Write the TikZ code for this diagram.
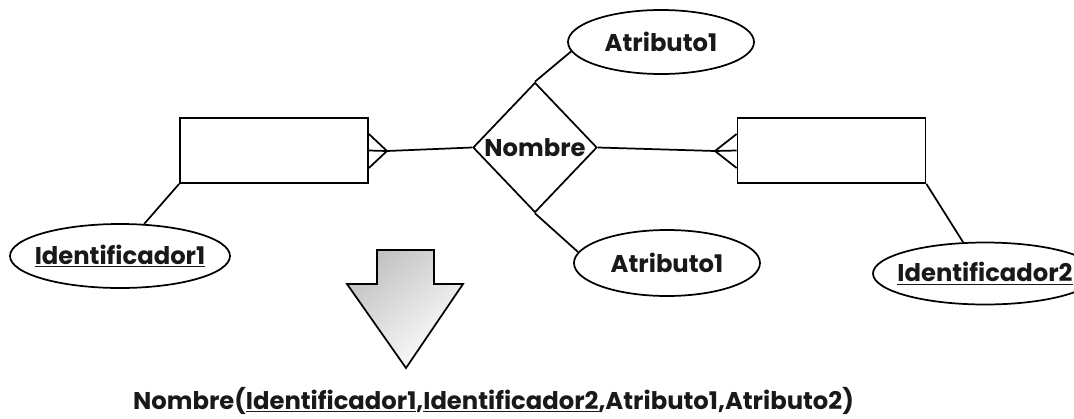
\documentclass[tikz,border=0pt]{standalone}
\usepackage{fontspec}
\setmainfont{Poppins}
\usetikzlibrary{shapes.geometric}
\tikzset{
  lbl/.style={font=\fontsize{18.2}{20}\selectfont\bfseries, text=black!90},
  entity/.style={draw, rectangle, minimum width=141pt, minimum height=48.75pt, inner sep=0pt},
  attr/.style={draw, ellipse, inner sep=0pt, lbl},
  rel/.style={draw, diamond, minimum width=93pt, minimum height=97.5pt, inner sep=0pt, lbl},
}
\begin{document}
\begin{tikzpicture}[x=0.75pt, y=-0.75pt, line width=1.3pt]
\useasboundingbox (0,0) rectangle (1074,418);
\clip (0,0) rectangle (1074,418);
% entities
\node[entity] (e1) at (274,150.5) {};
\node[entity] (e2) at (831.5,150.5) {};
% relationship
\node[rel] (r) at (535,147.5) {Nombre};
% attributes
\node[attr, inner xsep=-4pt, minimum width=139.5pt, minimum height=48pt] (a1) at (661,42) {Atributo1};
\node[attr, inner xsep=-4pt, minimum width=139.5pt, minimum height=49.5pt] (a2) at (667,263) {Atributo1};
\node[attr, inner xsep=-9pt, minimum width=165pt, minimum height=48pt] (i1) at (120,256) {\underline{Identificador1}};
\node[attr, inner xsep=-9pt, minimum width=168pt, minimum height=46.5pt] (i2) at (985,273.5) {\underline{Identificador2}};
% crow's feet tips
\coordinate (t1) at (387,151);
\coordinate (t2) at (715,151);
\draw (r.west) -- (t1);
\draw (t1) -- (e1.east |- 0,134);
\draw (t1) -- (e1.east);
\draw (t1) -- (e1.east |- 0,168);
\draw (r.east) -- (t2);
\draw (t2) -- (e2.west |- 0,134);
\draw (t2) -- (e2.west);
\draw (t2) -- (e2.west |- 0,168);
% attribute links
\draw (r.north) -- (a1.186);
\draw (r.south) -- (a2.173);
\draw (e1.south west) -- (i1.53);
\draw (e2.south east) -- (i2.125);
% arrow
\shade[draw, line width=1.3pt, top color=black!24, bottom color=white, shading angle=40]
  (377,250) -- (434,250) -- (434,284) -- (463,284) -- (406,368) -- (347,284) -- (377,284) -- cycle;
% relational schema
\node[lbl, anchor=base] (schema) at (493.5,409)
  {Nombre(\underline{Identificador1},\underline{Identificador2},Atributo1,Atributo2)};
\end{tikzpicture}
\end{document}
